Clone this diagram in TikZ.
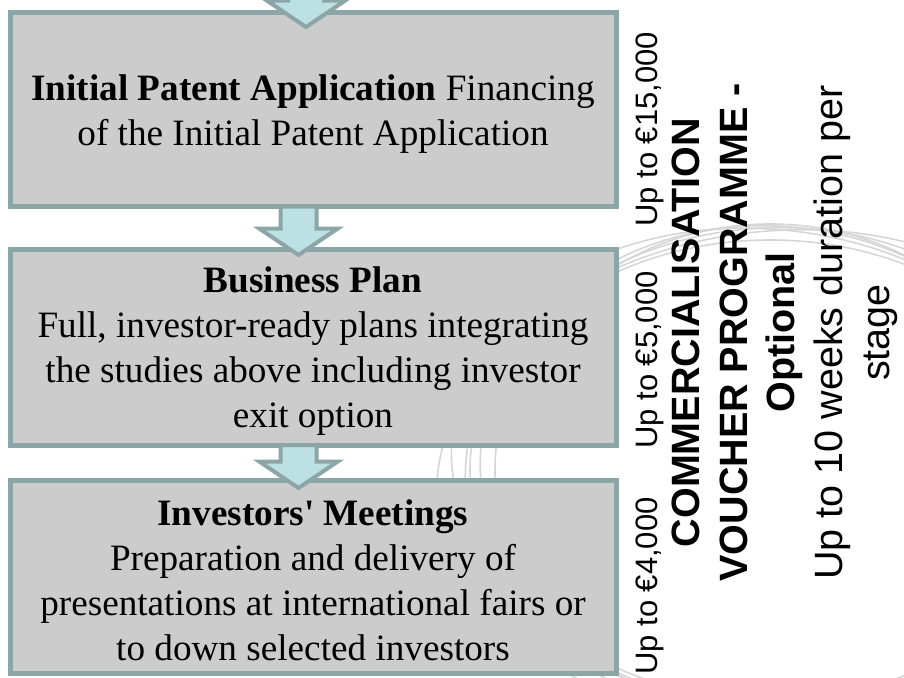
\documentclass[tikz,border=0pt]{standalone}
\usepackage{fontspec}
\setmainfont{Liberation Serif}
\setsansfont{Liberation Sans}
\usetikzlibrary{shapes.arrows}
\definecolor{edgeteal}{HTML}{8CA6A8}
\definecolor{boxgray}{HTML}{CCCCCC}
\definecolor{flowcyan}{HTML}{BDE0E2}
\definecolor{swirlgray}{HTML}{D6D6D6}
\begin{document}
\begin{tikzpicture}[
    x=1pt,y=-1pt,
    phase/.style={
      draw=edgeteal,fill=boxgray,line width=5pt,inner sep=0pt,outer sep=0pt,
      minimum width=606pt
    },
    phasetext/.style={
      align=center,inner sep=0pt,font=\fontsize{37.2pt}{45pt}\selectfont
    },
    flow/.style={
      single arrow,draw=edgeteal,fill=flowcyan,line width=4pt,
      rotate=-90,anchor=tip,inner xsep=0pt,inner ysep=16pt,outer sep=0pt,
      single arrow head extend=21pt,single arrow tip angle=112
    },
    amount/.style={
      rotate=90,anchor=base west,inner sep=0pt,
      font=\sffamily\fontsize{31pt}{37pt}\selectfont
    },
    swirl/.style={draw=swirlgray,line width=1.6pt},
  ]
  \useasboundingbox (0,0) rectangle (904,677);
  % faint watermark behind the chart
  \draw[swirl] (770,470) ellipse [x radius=275,y radius=246];
  \draw[swirl,rotate around={-4:(770,470)}] (770,470) ellipse [x radius=290,y radius=244];
  \draw[swirl,rotate around={4:(770,470)}] (770,470) ellipse [x radius=305,y radius=242];
  \draw[swirl,rotate around={-8:(770,470)}] (770,470) ellipse [x radius=320,y radius=240];
  \draw[swirl,rotate around={8:(770,470)}] (770,470) ellipse [x radius=335,y radius=238];
  \draw[swirl] (770,470) ellipse [x radius=300,y radius=230];
  % the three stages
  \node[phase,minimum height=193.5pt] (initial) at (313,109.75) {};
  \node[phase,minimum height=195.5pt] (plan) at (313,347.25) {};
  \node[phase,minimum height=193pt] (meet) at (313,576.5) {};
  \node[flow,minimum height=50pt] (intoinitial) at ([xshift=-7pt,yshift=-14pt]initial.north) {};
  \node[flow,minimum height=48.5pt] (toplan) at ([xshift=-14.5pt,yshift=-5.5pt]plan.north) {};
  \node[flow,minimum height=43pt] (tomeet) at ([xshift=-14.5pt,yshift=-8pt]meet.north) {};
  \node[phasetext] (initialtxt) at ([yshift=-4pt]initial.center)
    {\textbf{Initial Patent Application} Financing\\of the Initial Patent Application};
  \node[phasetext] (plantxt) at ([yshift=-4pt]plan.center)
    {\textbf{Business Plan}\\Full, investor-ready plans integrating\\the studies above including investor\\exit option};
  \node[phasetext] (meettxt) at ([yshift=-4pt]meet.center)
    {\textbf{Investors\textquotesingle{} Meetings}\\Preparation and delivery of\\presentations at international fairs or\\to down selected investors};
  % amounts and programme note
  \node[amount] (fee15) at (657,227) {Up to €15,000};
  \node[amount] (fee5) at (657,449) {Up to €5,000};
  \node[amount] (fee4) at (657,675) {Up to €4,000};
  \node[rotate=90,align=center,inner sep=0pt,
    font=\sffamily\fontsize{39.5pt}{47.5pt}\selectfont] (voucher) at (785,332.5)
    {\textbf{COMMERCIALISATION}\\\textbf{VOUCHER PROGRAMME -}\\\textbf{Optional}\\Up to 10 weeks duration per\\stage};
\end{tikzpicture}
\end{document}
